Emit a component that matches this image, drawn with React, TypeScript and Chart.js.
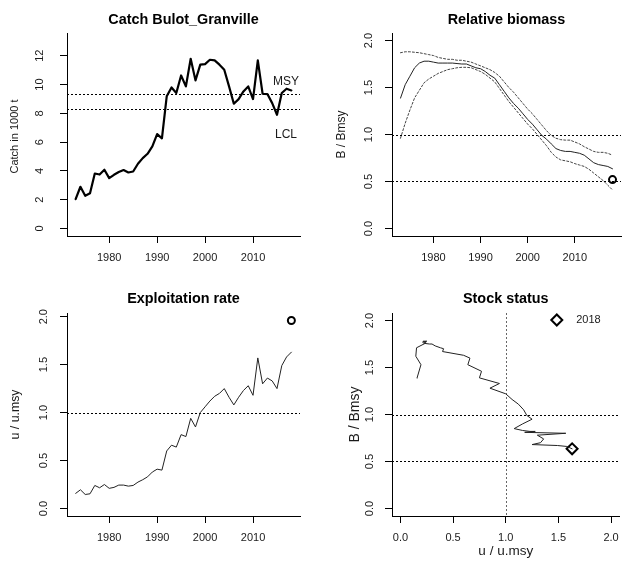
import React, { useEffect, useRef } from "react";
import { Chart, registerables } from "chart.js";
Chart.register(...registerables);

const FONT = "'Liberation Sans', Arial, Helvetica, sans-serif";

// ---------- data ----------
const years = [
  1973, 1974, 1975, 1976, 1977, 1978, 1979, 1980, 1981, 1982,
  1983, 1984, 1985, 1986, 1987, 1988, 1989, 1990, 1991, 1992,
  1993, 1994, 1995, 1996, 1997, 1998, 1999, 2000, 2001, 2002,
  2003, 2004, 2005, 2006, 2007, 2008, 2009, 2010, 2011, 2012,
  2013, 2014, 2015, 2016, 2017, 2018,
];
const catchK = [
  2.04, 2.9, 2.27, 2.45, 3.82, 3.75, 4.08, 3.5, 3.73, 3.92,
  4.06, 3.89, 3.96, 4.5, 4.89, 5.19, 5.7, 6.56, 6.26, 9.18,
  9.8, 9.41, 10.63, 9.87, 11.79, 10.29, 11.38, 11.42, 11.72, 11.68,
  11.38, 11.03, 9.87, 8.67, 8.99, 9.52, 9.87, 8.99, 11.68, 9.36,
  9.34, 8.71, 7.9, 9.41, 9.71, 9.59,
];
const msyCatch = 9.34;
const lclCatch = 8.27;

const bRel = [
  1.386, 1.53, 1.62, 1.71, 1.76, 1.78, 1.78, 1.77, 1.76, 1.76,
  1.76, 1.76, 1.755, 1.75, 1.75, 1.73, 1.71, 1.7, 1.67, 1.63,
  1.6, 1.53, 1.46, 1.39, 1.33, 1.28, 1.22, 1.16, 1.11, 1.05,
  0.99, 0.95, 0.9, 0.85, 0.83, 0.82, 0.82, 0.81, 0.8, 0.78,
  0.74, 0.7, 0.68, 0.67, 0.66, 0.635,
];
const bRelUpper = [
  1.87, 1.88, 1.88, 1.875, 1.87, 1.86, 1.85, 1.84, 1.82, 1.81,
  1.8, 1.8, 1.79, 1.79, 1.78, 1.77, 1.75, 1.73, 1.71, 1.69,
  1.66, 1.62, 1.56, 1.5, 1.45, 1.39, 1.33, 1.27, 1.22, 1.16,
  1.1, 1.04, 0.99, 0.96, 0.945, 0.94, 0.94, 0.92, 0.9, 0.87,
  0.845, 0.82, 0.81, 0.81, 0.8, 0.78,
];
const bRelLower = [
  0.96, 1.12, 1.26, 1.39, 1.47, 1.55, 1.59, 1.62, 1.65, 1.67,
  1.69, 1.7, 1.71, 1.715, 1.715, 1.71, 1.69, 1.67, 1.64, 1.6,
  1.56, 1.49, 1.42, 1.35, 1.29, 1.23, 1.17, 1.11, 1.06, 1.0,
  0.94, 0.88, 0.81, 0.76, 0.73, 0.72, 0.71, 0.69, 0.675, 0.66,
  0.63, 0.59, 0.55, 0.51, 0.46, 0.41,
];
const bRelPoint = 0.52;

const uRel = [
  0.157, 0.195, 0.146, 0.153, 0.24, 0.216, 0.25, 0.21, 0.22, 0.244,
  0.244, 0.233, 0.24, 0.275, 0.3, 0.33, 0.38, 0.41, 0.4, 0.6,
  0.66, 0.64, 0.77, 0.75, 0.94, 0.85, 1.0, 1.06, 1.12, 1.17,
  1.2, 1.25, 1.16, 1.08, 1.16, 1.23, 1.28, 1.18, 1.57, 1.3,
  1.36, 1.33, 1.25, 1.49, 1.58, 1.63,
];
const uRelPoint = 1.96;

const yearTicks = [1980, 1990, 2000, 2010];
const catchTicks = [0, 2, 4, 6, 8, 10, 12];
const ratioTicks = [0, 0.5, 1, 1.5, 2];
const refLinesB = [1, 0.5];
const refLinesU = [1];
const legendLabel = "2018";

const lastYear = years[years.length - 1];

// ---------- helpers ----------
type TextItem = {
  text: string;
  size: number;
  bold?: boolean;
  rot?: boolean;
  align?: CanvasTextAlign;
  pos: (c: any) => [number, number];
};

type PanelSpec = {
  left: number;
  top: number;
  width: number;
  height: number;
  padRight: number;
  xAxisH: number;
  yAxisW: number;
  xMin: number;
  xMax: number;
  yMin: number;
  yMax: number;
  xTicks: number[];
  yTicks: number[];
  xFmt: (v: number) => string;
  yFmt: (v: number) => string;
  yLabelX: number;
  datasets: any[];
  hLines: number[];
  vLines: number[];
  texts: TextItem[];
  legendDiamond?: boolean;
};

const fmt1 = (v: number) => v.toFixed(1);
const fmt0 = (v: number) => String(v);

function makePlugin(spec: PanelSpec) {
  return {
    id: "rdecor",
    beforeDatasetsDraw(chart: any) {
      const ctx = chart.ctx;
      const a = chart.chartArea;
      const xs = chart.scales.x;
      const ys = chart.scales.y;
      ctx.save();
      ctx.lineWidth = 1;
      ctx.setLineDash([2, 2]);
      ctx.strokeStyle = "#000";
      spec.hLines.forEach((v) => {
        const y = Math.round(ys.getPixelForValue(v)) + 0.5;
        ctx.beginPath();
        ctx.moveTo(a.left, y);
        ctx.lineTo(a.right, y);
        ctx.stroke();
      });
      ctx.strokeStyle = "#666";
      spec.vLines.forEach((v) => {
        const x = Math.round(xs.getPixelForValue(v)) + 0.5;
        ctx.beginPath();
        ctx.moveTo(x, a.top);
        ctx.lineTo(x, a.bottom);
        ctx.stroke();
      });
      ctx.restore();
    },
    afterDraw(chart: any) {
      const ctx = chart.ctx;
      const ys = chart.scales.y;
      ctx.save();
      ctx.fillStyle = "#1a1a1a";
      // y tick labels (rotated, R style)
      ctx.font = `11px ${FONT}`;
      ctx.textAlign = "center";
      ctx.textBaseline = "middle";
      ys.ticks.forEach((t: any) => {
        const py = ys.getPixelForValue(t.value);
        ctx.save();
        ctx.translate(spec.yLabelX, py);
        ctx.rotate(-Math.PI / 2);
        ctx.fillText(spec.yFmt(t.value), 0, 0);
        ctx.restore();
      });
      // texts
      spec.texts.forEach((t) => {
        const [x, y] = t.pos(chart);
        ctx.font = `${t.bold ? "bold " : ""}${t.size}px ${FONT}`;
        ctx.fillStyle = t.bold ? "#000" : "#1a1a1a";
        ctx.textAlign = t.align || "center";
        ctx.textBaseline = "middle";
        if (t.rot) {
          ctx.save();
          ctx.translate(x, y);
          ctx.rotate(-Math.PI / 2);
          ctx.fillText(t.text, 0, 0);
          ctx.restore();
        } else {
          ctx.fillText(t.text, x, y);
        }
      });
      if (spec.legendDiamond) {
        const a = chart.chartArea;
        const cx = a.right - 62.7;
        const cy = a.top + 7;
        const r = 5.5;
        ctx.strokeStyle = "#000";
        ctx.lineWidth = 2;
        ctx.beginPath();
        ctx.moveTo(cx - r, cy);
        ctx.lineTo(cx, cy - r);
        ctx.lineTo(cx + r, cy);
        ctx.lineTo(cx, cy + r);
        ctx.closePath();
        ctx.stroke();
        ctx.font = `11px ${FONT}`;
        ctx.fillStyle = "#1a1a1a";
        ctx.textAlign = "left";
        ctx.fillText(legendLabel, a.right - 43.3, cy);
      }
      ctx.restore();
    },
  };
}

function buildConfig(spec: PanelSpec): any {
  const axisCommon = {
    type: "linear",
    grid: {
      display: true,
      drawOnChartArea: false,
      drawTicks: true,
      tickLength: 7,
      color: "#000",
      tickColor: "#000",
      lineWidth: 1,
      tickWidth: 1,
    },
    border: { display: true, color: "#000", width: 1 },
  };
  return {
    type: "line",
    data: { datasets: spec.datasets },
    options: {
      animation: false,
      responsive: false,
      maintainAspectRatio: false,
      devicePixelRatio: 1,
      events: [],
      layout: { padding: { top: 33, right: spec.padRight, left: 0, bottom: 0 } },
      plugins: {
        legend: { display: false },
        tooltip: { enabled: false },
        title: { display: false },
      },
      scales: {
        x: {
          ...axisCommon,
          position: "bottom",
          min: spec.xMin,
          max: spec.xMax,
          afterBuildTicks: (s: any) => {
            s.ticks = spec.xTicks.map((v) => ({ value: v }));
          },
          afterFit: (s: any) => {
            s.height = spec.xAxisH;
          },
          ticks: {
            display: true,
            autoSkip: false,
            maxRotation: 0,
            minRotation: 0,
            padding: 8,
            color: "#1a1a1a",
            font: { family: FONT, size: 11 },
            callback: (v: any) => spec.xFmt(Number(v)),
          },
        },
        y: {
          ...axisCommon,
          position: "left",
          min: spec.yMin,
          max: spec.yMax,
          afterBuildTicks: (s: any) => {
            s.ticks = spec.yTicks.map((v) => ({ value: v }));
          },
          afterFit: (s: any) => {
            s.width = spec.yAxisW;
          },
          ticks: { display: false },
        },
      },
    },
    plugins: [makePlugin(spec)],
  };
}

const xy = (xs: number[], ys: number[]) => xs.map((x, i) => ({ x, y: ys[i] }));

const lineDs = (data: any[], width: number, color: string, dash: number[] = []) => ({
  data,
  borderColor: color,
  borderWidth: width,
  borderDash: dash,
  borderJoinStyle: "round",
  borderCapStyle: "round",
  pointRadius: 0,
  tension: 0,
  fill: false,
});

const markerDs = (data: any[], style: string, radius: number) => ({
  data,
  showLine: false,
  pointStyle: style,
  pointRadius: radius,
  pointBorderWidth: 2,
  pointBorderColor: "#000",
  pointBackgroundColor: "rgba(0,0,0,0)",
  borderColor: "#000",
});

const yearRange = { xMin: 1971.2, xMax: 2019.8 };

const panels: PanelSpec[] = [
  {
    left: 0,
    top: 0,
    width: 313,
    height: 280,
    padRight: 13,
    xAxisH: 44,
    yAxisW: 67,
    ...yearRange,
    yMin: -0.52,
    yMax: 13.58,
    xTicks: yearTicks,
    yTicks: catchTicks,
    xFmt: fmt0,
    yFmt: fmt0,
    yLabelX: 39.5,
    datasets: [lineDs(xy(years, catchK), 2.2, "#000")],
    hLines: [msyCatch, lclCatch],
    vLines: [],
    texts: [
      { text: "Catch Bulot_Granville", size: 14.4, bold: true, pos: (c) => [(c.chartArea.left + c.chartArea.right) / 2, 20] },
      { text: "Catch in 1000 t", size: 11, rot: true, pos: (c) => [15, (c.chartArea.top + c.chartArea.bottom) / 2 + 2] },
      { text: "MSY", size: 12, pos: (c) => [c.chartArea.right - 14, c.scales.y.getPixelForValue(msyCatch) - 12.3] },
      { text: "LCL", size: 12, pos: (c) => [c.chartArea.right - 14, c.scales.y.getPixelForValue(lclCatch) + 25.5] },
    ],
  },
  {
    left: 313,
    top: 0,
    width: 314,
    height: 280,
    padRight: 1,
    xAxisH: 44,
    yAxisW: 79,
    ...yearRange,
    yMin: -0.08,
    yMax: 2.08,
    xTicks: yearTicks,
    yTicks: ratioTicks,
    xFmt: fmt0,
    yFmt: fmt1,
    yLabelX: 56.3,
    datasets: [
      lineDs(xy(years, bRelUpper), 1, "#444", [2, 2]),
      lineDs(xy(years, bRelLower), 1, "#444", [2, 2]),
      lineDs(xy(years, bRel), 1, "#222"),
      markerDs([{ x: lastYear, y: bRelPoint }], "circle", 3.5),
    ],
    hLines: refLinesB,
    vLines: [],
    texts: [
      { text: "Relative biomass", size: 14.4, bold: true, pos: (c) => [(c.chartArea.left + c.chartArea.right) / 2, 20] },
      { text: "B / Bmsy", size: 12, rot: true, pos: (c) => [28.7, (c.chartArea.top + c.chartArea.bottom) / 2] },
    ],
  },
  {
    left: 0,
    top: 280,
    width: 313,
    height: 281,
    padRight: 13,
    xAxisH: 45,
    yAxisW: 67,
    ...yearRange,
    yMin: -0.0784,
    yMax: 2.0384,
    xTicks: yearTicks,
    yTicks: ratioTicks,
    xFmt: fmt0,
    yFmt: fmt1,
    yLabelX: 43.5,
    datasets: [
      lineDs(xy(years, uRel), 1, "#222"),
      markerDs([{ x: lastYear, y: uRelPoint }], "circle", 3.5),
    ],
    hLines: refLinesU,
    vLines: [],
    texts: [
      { text: "Exploitation rate", size: 14.4, bold: true, pos: (c) => [(c.chartArea.left + c.chartArea.right) / 2, 19] },
      { text: "u / u.msy", size: 12.3, rot: true, pos: (c) => [15.7, (c.chartArea.top + c.chartArea.bottom) / 2] },
    ],
  },
  {
    left: 313,
    top: 280,
    width: 314,
    height: 281,
    padRight: 1,
    xAxisH: 45,
    yAxisW: 79,
    xMin: -0.08,
    xMax: 2.08,
    yMin: -0.08,
    yMax: 2.08,
    xTicks: ratioTicks,
    yTicks: ratioTicks,
    xFmt: fmt1,
    yFmt: fmt1,
    yLabelX: 56.5,
    datasets: [
      lineDs(xy(uRel, bRel), 1, "#222"),
      markerDs([{ x: uRel[uRel.length - 1], y: bRel[bRel.length - 1] }], "rectRot", 5.5),
    ],
    hLines: refLinesB,
    vLines: [1],
    legendDiamond: true,
    texts: [
      { text: "Stock status", size: 14.4, bold: true, pos: (c) => [(c.chartArea.left + c.chartArea.right) / 2, 19] },
      { text: "B / Bmsy", size: 14, rot: true, pos: (c) => [42, (c.chartArea.top + c.chartArea.bottom) / 2] },
      { text: "u / u.msy", size: 13.5, pos: (c) => [(c.chartArea.left + c.chartArea.right) / 2, 271.7] },
    ],
  },
];

function Panel({ spec }: { spec: PanelSpec }) {
  const ref = useRef<HTMLCanvasElement | null>(null);
  useEffect(() => {
    if (!ref.current) return;
    const chart = new Chart(ref.current, buildConfig(spec));
    return () => chart.destroy();
  }, [spec]);
  return (
    <canvas
      ref={ref}
      width={spec.width}
      height={spec.height}
      style={{
        position: "absolute",
        left: spec.left,
        top: spec.top,
        width: spec.width,
        height: spec.height,
        display: "block",
      }}
    />
  );
}

export default function App() {
  return (
    <div
      style={{
        position: "absolute",
        left: 0,
        top: 0,
        width: 627,
        height: 561,
        background: "#fff",
        overflow: "hidden",
      }}
    >
      {panels.map((p, i) => (
        <Panel key={i} spec={p} />
      ))}
    </div>
  );
}
